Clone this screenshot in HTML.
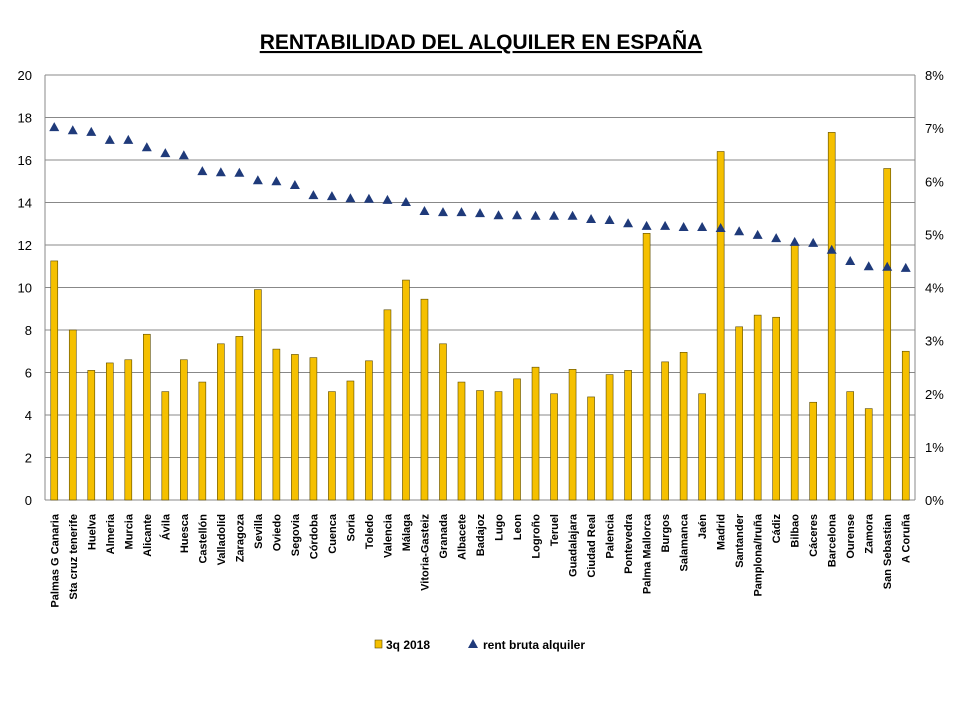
<!DOCTYPE html>
<html><head><meta charset="utf-8"><style>
body{margin:0;background:#fff;width:960px;height:720px;overflow:hidden;font-family:"Liberation Sans",sans-serif}
</style></head><body>
<svg id="chart" width="960" height="720">
<text x="481" y="49" text-anchor="middle" font-size="21" font-weight="bold" text-decoration="underline" font-family="Liberation Sans, sans-serif">RENTABILIDAD DEL ALQUILER EN ESPAÑA</text>
<g id="g"></g>
</svg>
<script>
const categories=["Palmas G Canaria","Sta cruz tenerife","Huelva","Almeria","Murcia","Alicante","Ávila","Huesca","Castellón","Valladolid","Zaragoza","Sevilla","Oviedo","Segovia","Córdoba","Cuenca","Soria","Toledo","Valencia","Málaga","Vitoria-Gasteiz","Granada","Albacete","Badajoz","Lugo","Leon","Logroño","Teruel","Guadalajara","Ciudad Real","Palencia","Pontevedra","Palma Mallorca","Burgos","Salamanca","Jaén","Madrid","Santander","Pamplona/Iruña","Cádiz","Bilbao","Cáceres","Barcelona","Ourense","Zamora","San Sebastian","A Coruña"];
const bars=[11.25,8.0,6.1,6.45,6.6,7.8,5.1,6.6,5.55,7.35,7.7,9.9,7.1,6.85,6.7,5.1,5.6,6.55,8.95,10.35,9.45,7.35,5.55,5.15,5.1,5.7,6.25,5.0,6.15,4.85,5.9,6.1,12.55,6.5,6.95,5.0,16.4,8.15,8.7,8.6,12.0,4.6,17.3,5.1,4.3,15.6,7.0];
const yields=[7.02,6.96,6.93,6.78,6.78,6.64,6.53,6.49,6.19,6.17,6.16,6.02,6.0,5.93,5.74,5.72,5.68,5.67,5.65,5.61,5.44,5.42,5.42,5.40,5.36,5.36,5.35,5.35,5.35,5.29,5.27,5.21,5.16,5.16,5.14,5.14,5.12,5.06,4.99,4.93,4.86,4.84,4.71,4.5,4.40,4.39,4.37];
const leftTicks=[0,2,4,6,8,10,12,14,16,18,20];
const rightTicks=["0%","1%","2%","3%","4%","5%","6%","7%","8%"];
const NS="http://www.w3.org/2000/svg",g=document.getElementById('g');
const X0=45,X1=915,Y0=500,Y1=75;
const step=(X1-X0)/categories.length;
const xc=i=>X0+step*(i+0.5);
const yL=v=>Y0-(v/20)*(Y0-Y1);
const yR=v=>Y0-(v/8)*(Y0-Y1);
function mk(t,a,p){const e=document.createElementNS(NS,t);for(const k in a)e.setAttribute(k,a[k]);(p||g).appendChild(e);return e;}
leftTicks.forEach(v=>{
 const l=mk('line',{x1:X0,x2:X1,y1:yL(v),y2:yL(v),stroke:'#888','stroke-width':1});
 
 
 const t=mk('text',{x:X0-13,y:yL(v)+5,'text-anchor':'end','font-size':13});t.textContent=v;
 
 
});
rightTicks.forEach((s,i)=>{
 const t=mk('text',{x:X1+10,y:yR(i)+5,'font-size':13});t.textContent=s;
 
 
});
mk('line',{x1:X0,x2:X0,y1:Y1,y2:Y0,stroke:'#888'});
mk('line',{x1:X1,x2:X1,y1:Y1,y2:Y0,stroke:'#888'});
categories.forEach((c,i)=>{
 const w=7,x=xc(i);
 const r=mk('rect',{x:x-w/2,y:yL(bars[i]),width:w,height:Y0-yL(bars[i]),fill:'#F5C000',stroke:'#5a4a00','stroke-width':0.6});
 
 
 const y=yR(yields[i]);
 const p=mk('polygon',{points:`${x},${y-5} ${x-5},${y+4} ${x+5},${y+4}`,fill:'#1F3A7A'});
 
 
 const t=mk('text',{transform:`translate(${x+4},${Y0+14}) rotate(-90)`,'text-anchor':'end','font-size':11,'font-weight':'bold'});t.textContent=c;
 
 
});
const lg=mk('g',{});


mk('rect',{x:375,y:640,width:7,height:8,fill:'#F5C000',stroke:'#5a4a00','stroke-width':0.6},lg);
let t1=mk('text',{x:386,y:649,'font-size':12,'font-weight':'bold'},lg);t1.textContent='3q 2018';
mk('polygon',{points:'473,639 468,648 478,648',fill:'#1F3A7A'},lg);
let t2=mk('text',{x:483,y:649,'font-size':12,'font-weight':'bold'},lg);t2.textContent='rent bruta alquiler';
</script>
</body></html>
